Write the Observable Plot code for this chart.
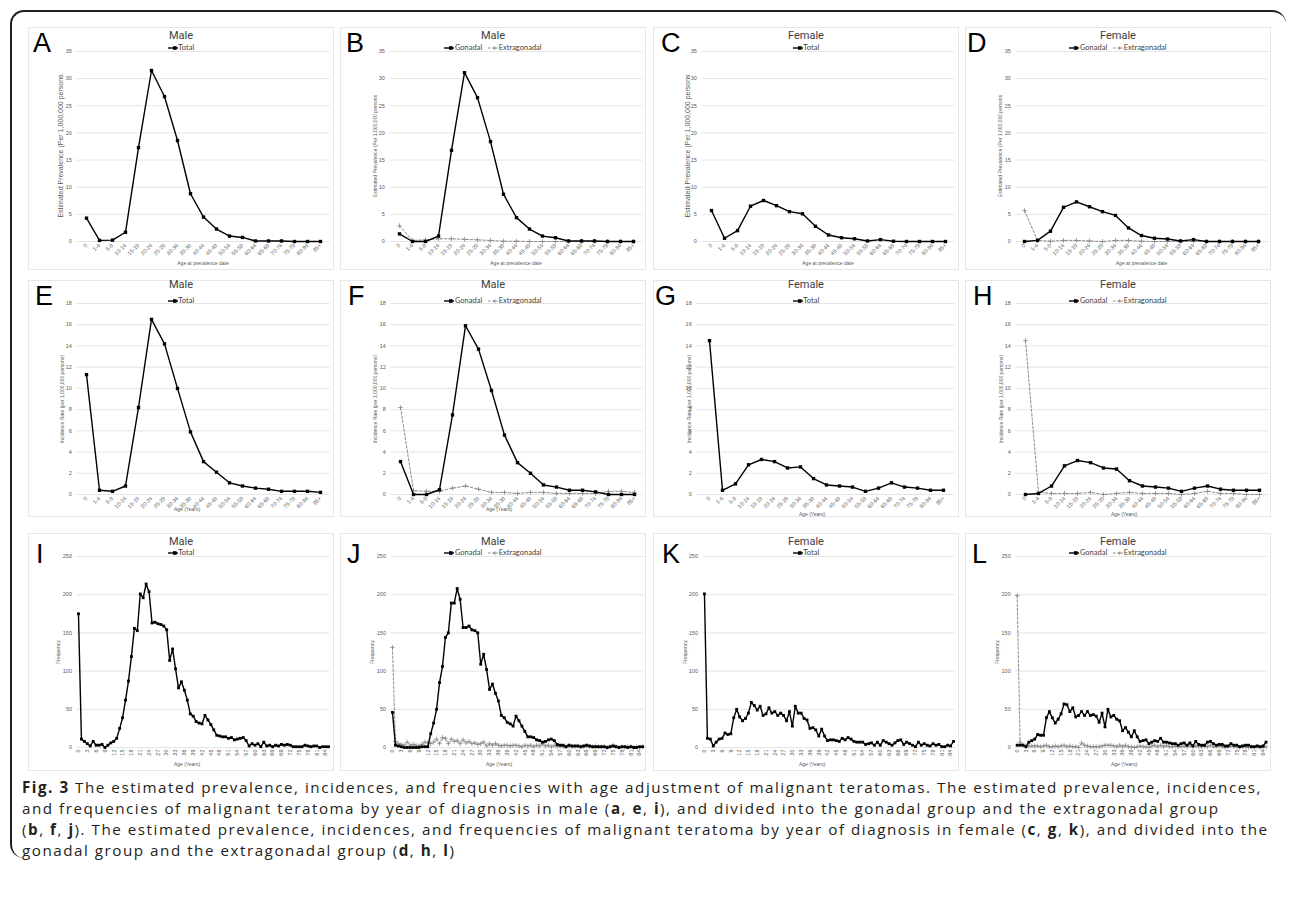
<!DOCTYPE html>
<html><head><meta charset="utf-8">
<script src="https://cdn.jsdelivr.net/npm/d3@7"></script>
<script src="https://cdn.jsdelivr.net/npm/@observablehq/plot@0.6"></script>
<style>
body{margin:0;background:#fff;}
#fig{position:relative;width:1290px;height:904px;overflow:hidden;font-family:"Liberation Sans",Arial,sans-serif;background:#fff;}
.frame{position:absolute;left:10px;top:10px;width:1276px;height:848px;border-top:2px solid #231f20;border-left:2px solid #231f20;border-radius:14px 14px 0 14px;box-sizing:border-box;}
.panel{position:absolute;outline:1px solid #e6e6e6;outline-offset:-1px;}
.panel svg.chart{position:absolute;left:0;top:0;overflow:visible;}
.letter{position:absolute;font-size:27px;line-height:1;color:#000;}
.ptitle{position:absolute;left:0;width:100%;text-align:center;font-size:11px;line-height:1;color:#404040;font-family:Roboto,"Liberation Sans",sans-serif;}
.legend{position:absolute;left:0;width:100%;display:flex;justify-content:center;align-items:center;gap:6px;font-size:7.5px;line-height:1;color:#404040;font-family:Lato,"Open Sans",sans-serif;}
.legend span{display:flex;align-items:center;}
.legend svg{display:block;}
.ytitle{position:absolute;white-space:nowrap;transform:translate(-50%,-50%) rotate(-90deg);color:#595959;line-height:1;}
.xtitle{position:absolute;white-space:nowrap;transform:translate(-50%,-50%);color:#595959;line-height:1;font-size:5px;}
.caption{position:absolute;left:22px;top:777px;font-family:"Open Sans","Noto Sans",sans-serif;font-size:15.2px;color:#231f20;white-space:nowrap;}
.caption div{height:21px;line-height:21px;}
.caption span{display:inline;}
</style></head>
<body><div id="fig"><div class="frame"></div>
<div class="caption" id="caption">
<div><span><b>Fig. 3</b> The estimated prevalence, incidences, and frequencies with age adjustment of malignant teratomas. The estimated prevalence, incidences,</span></div>
<div><span>and frequencies of malignant teratoma by year of diagnosis in male (<b>a</b>, <b>e</b>, <b>i</b>), and divided into the gonadal group and the extragonadal group</span></div>
<div><span>(<b>b</b>, <b>f</b>, <b>j</b>). The estimated prevalence, incidences, and frequencies of malignant teratoma by year of diagnosis in female (<b>c</b>, <b>g</b>, <b>k</b>), and divided into the</span></div>
<div><span>gonadal group and the extragonadal group (<b>d</b>, <b>h</b>, <b>l</b>)</span></div>
</div>
</div>
<script>
// ---------- categories & ticks ----------
const ageGroups = ["0","1-4","5-9","10-14","15-19","20-24","25-29","30-34","35-39","40-44","45-49","50-54","55-59","60-64","65-69","70-74","75-79","80-84","85+"];
const ages = Array.from({length: 86}, (_, i) => i);
const ageTicks = [0,3,6,9,12,15,18,21,24,27,30,33,36,39,42,45,48,51,54,57,60,63,66,69,72,75,78,81,84];
const prevTicks = [0,5,10,15,20,25,30,35];
const incTicks = [0,2,4,6,8,10,12,14,16,18];
const freqTicks = [0,50,100,150,200,250];

// ---------- estimated prevalence (per 1,000,000) ----------
const prevMaleTotal    = [4.3,0.2,0.25,1.7,17.3,31.5,26.7,18.6,8.8,4.5,2.3,1.0,0.75,0.1,0.1,0.1,0,0,0];
const prevMaleGonadal  = [1.4,0,0,1.0,16.8,31.1,26.5,18.4,8.7,4.4,2.3,1.0,0.7,0.1,0.1,0.1,0,0,0];
const prevMaleExtra    = [2.9,0.2,0.3,0.5,0.5,0.4,0.3,0.2,0.05,0.05,0,0,0,0,0,0,0,0,0];
const prevFemaleTotal  = [5.7,0.6,2.0,6.5,7.55,6.6,5.5,5.1,2.8,1.2,0.7,0.5,0.1,0.35,0.05,0,0,0,0];
const prevFemaleGonadal= [0,0.2,1.9,6.3,7.3,6.4,5.5,4.8,2.5,1.1,0.6,0.45,0.1,0.35,0,0,0,0,0];
const prevFemaleExtra  = [5.7,0.2,0.05,0.2,0.2,0.1,0,0.2,0.2,0.05,0,0,0,0,0,0,0,0,0];

// ---------- incidence rate (per 1,000,000) ----------
const incMaleTotal     = [11.3,0.4,0.3,0.8,8.2,16.5,14.2,10.0,5.9,3.1,2.1,1.1,0.8,0.6,0.5,0.3,0.3,0.3,0.2];
const incMaleGonadal   = [3.1,0,0,0.45,7.5,15.9,13.7,9.8,5.6,3.0,2.0,0.9,0.7,0.4,0.4,0.25,0,0,0];
const incMaleExtra     = [8.2,0.35,0.3,0.3,0.6,0.8,0.5,0.2,0.2,0.1,0.2,0.2,0.1,0.1,0.1,0.1,0.3,0.3,0.2];
const incFemaleTotal   = [14.5,0.4,1.0,2.8,3.3,3.1,2.5,2.6,1.5,0.9,0.8,0.7,0.3,0.6,1.1,0.7,0.6,0.4,0.4];
const incFemaleGonadal = [0,0.1,0.8,2.7,3.2,3.0,2.5,2.4,1.3,0.8,0.7,0.6,0.3,0.6,0.8,0.5,0.4,0.4,0.4];
const incFemaleExtra   = [14.5,0.2,0.1,0.1,0.1,0.2,0,0.1,0.2,0.1,0.1,0.1,0,0.1,0.3,0.1,0.1,0,0];

// ---------- frequency by single year of age (0..85) ----------
const freqMaleTotal = [
 175,11,8,5,2,8,3,3,4,0,
 3,6,8,12,25,39,62,87,119,156,
 153,201,196,214,204,163,164,162,161,159,
 154,114,129,103,78,86,75,62,44,41,
 34,32,31,42,36,30,23,16,15,14,
 14,12,13,10,11,12,13,9,2,5,
 3,5,1,7,2,3,1,3,2,4,
 3,4,3,1,1,1,1,3,2,1,
 2,2,0,1,1,1];
const freqMaleGonadal = [
 46,3,2,1,0,0,0,0,0,0,
 1,1,1,18,32,50,85,106,144,150,
 189,189,208,194,157,157,159,154,153,150,
 109,122,102,76,83,71,61,42,39,33,
 31,28,41,35,28,21,14,14,13,10,
 9,7,8,10,11,9,4,3,3,1,
 3,2,2,2,1,2,3,2,1,1,
 1,1,1,0,1,2,1,0,1,1,
 0,1,0,0,1,1];
const freqMaleExtra = [
 131,8,5,4,3,7,3,4,3,2,
 4,7,6,5,7,11,5,13,12,5,
 11,8,9,5,10,6,8,5,6,4,
 5,7,2,5,3,5,3,2,3,3,
 2,3,3,2,1,3,2,3,1,3,
 2,5,2,3,1,3,1,2,1,1,
 2,1,1,2,1,1,2,1,1,2,
 1,1,1,0,1,3,1,0,1,0,
 1,1,0,1,0,1];
const freqFemaleTotal = [
 201,12,11,2,7,11,12,19,17,18,
 39,50,40,35,38,45,59,55,49,54,
 42,44,52,45,47,42,45,42,35,47,
 28,54,45,45,38,36,25,26,23,15,
 24,15,9,10,10,9,8,12,10,13,
 11,8,7,7,7,4,5,6,3,7,
 3,9,7,5,3,6,9,10,4,7,
 5,3,1,7,3,5,3,2,5,3,
 4,1,1,3,2,8];
const freqFemaleGonadal = [
 3,3,3,1,7,9,11,17,16,16,
 39,47,39,32,37,44,57,56,47,52,
 40,42,47,42,47,42,43,41,33,45,
 27,50,40,42,37,35,22,26,20,14,
 22,14,8,9,10,5,7,9,8,12,
 7,7,6,5,5,3,5,6,3,6,
 2,8,4,3,3,7,8,5,3,4,
 4,2,2,5,3,3,1,2,3,3,
 1,1,2,1,2,7];
const freqFemaleExtra = [
 199,7,3,2,2,2,2,2,1,2,
 3,1,1,2,1,2,3,1,2,1,
 1,0,6,3,2,1,1,1,1,2,
 3,3,3,2,1,3,1,3,1,1,
 0,1,2,1,1,0,2,3,1,3,
 1,3,1,1,2,1,1,2,1,3,
 1,2,1,1,2,1,3,1,1,2,
 1,0,1,2,1,1,0,1,1,0,
 1,0,1,0,0,1];

// ---------- text ----------
const letters = ["A","B","C","D","E","F","G","H","I","J","K","L"];
const sexTitles = ["Male","Male","Female","Female"];
const prevYTitleBig = "Estimated Prevalence  (Per 1,000,000 persons";
const prevYTitleSmall = "Estimated Prevalence (Per 1,000,000 persons";
const incYTitle = "Incidence Rate (per 1,000,000 persons)";
const freqYTitle = "Frequency";

// ---------- panel definitions ----------
const panelSeries = [
  [["Total", prevMaleTotal]], [["Gonadal", prevMaleGonadal], ["Extragonadal", prevMaleExtra]],
  [["Total", prevFemaleTotal]], [["Gonadal", prevFemaleGonadal], ["Extragonadal", prevFemaleExtra]],
  [["Total", incMaleTotal]], [["Gonadal", incMaleGonadal], ["Extragonadal", incMaleExtra]],
  [["Total", incFemaleTotal]], [["Gonadal", incFemaleGonadal], ["Extragonadal", incFemaleExtra]],
  [["Total", freqMaleTotal]], [["Gonadal", freqMaleGonadal], ["Extragonadal", freqMaleExtra]],
  [["Total", freqFemaleTotal]], [["Gonadal", freqFemaleGonadal], ["Extragonadal", freqFemaleExtra]]
];

// ---------- layout (page pixels) ----------
const colLeft = [28, 340, 653, 965];
const colWidth = 306;
const rowTop = [27, 280, 533];
const rowHeight = [243, 237, 238];
const frameY = [[51, 241], [303, 494], [556, 747]];
const frameX = [
  [76.3, 329.7], [389.3, 642.7], [701.3, 954.7], [1015.4, 1267.6],
  [76.3, 329.7], [390.4, 642.6], [696.2, 954.8], [1015.3, 1268.7],
  [76.5, 329.5], [390.5, 643.5], [702.5, 954.5], [1015.2, 1267]
];
const letterPos = [[33,30],[346,30],[661,30],[967,30],[35,283],[348,283],[655,283],[973,283],[36,541],[347,541],[662,541],[972,541]];
const titleY = [35, 284, 541];
const legendY = [48, 301, 553];
const yTitleX = [60, 375, 687, 1000, 62, 375, 689, 1001, 58, 372, 685, 997];
const xTitleY = [[263,263,263,263],[509,509,514,514],[764,764,764,764]];

const styles = {
  Total: {stroke: "#000", width: 1.4, dash: null, symbol: "square"},
  Gonadal: {stroke: "#000", width: 1.4, dash: null, symbol: "square"},
  Extragonadal: {stroke: "#808080", width: 0.9, dash: "2.5,1.8", symbol: "plus"}
};

function swatch(name) {
  const s = styles[name];
  const mk = s.symbol === "square"
    ? `<rect x="5" y="1.2" width="3.6" height="3.6" fill="#000"/>`
    : `<path d="M6.8 1.3V4.9M5 3.1H8.6" stroke="${s.stroke}" stroke-width="0.8"/>`;
  return `<svg width="10" height="6" style="margin-right:0.5px"><line x1="0" x2="10" y1="3" y2="3" stroke="${s.stroke}" stroke-width="${s.width}" ${s.dash ? `stroke-dasharray="${s.dash}"` : ""}/>${mk}</svg>`;
}

const fig = document.getElementById("fig");
panelSeries.forEach((series, i) => {
  const col = i % 4, row = Math.floor(i / 4);
  const bx = colLeft[col], by = rowTop[row], bw = colWidth, bh = rowHeight[row];
  const [fx0, fx1] = frameX[i], [fy0, fy1] = frameY[row];
  const isFreq = row === 2;
  const xDomain = isFreq ? ages : ageGroups;
  const yTicks = row === 0 ? prevTicks : row === 1 ? incTicks : freqTicks;
  const div = document.createElement("div");
  div.className = "panel";
  Object.assign(div.style, {left: bx + "px", top: by + "px", width: bw + "px", height: bh + "px"});

  const marks = [
    Plot.gridY(yTicks, {stroke: "#d9d9d9", strokeOpacity: 1, strokeWidth: 0.7}),
    Plot.axisY(yTicks, {tickSize: 0, tickPadding: 5, fontSize: 5.5, label: null}),
    isFreq
      ? Plot.axisX(ageTicks, {tickSize: 0, tickPadding: 2, tickRotate: -90, fontSize: 5.5, label: null})
      : Plot.axisX({tickSize: 0, tickPadding: 3, tickRotate: -45, fontSize: 5.5, label: null})
  ];
  series.slice().reverse().forEach(([name, values]) => {
    const s = styles[name];
    const data = values.map((v, k) => ({x: xDomain[k], y: v}));
    marks.push(Plot.line(data, {x: "x", y: "y", stroke: s.stroke, strokeWidth: s.width, strokeDasharray: s.dash}));
    if (s.symbol === "square")
      marks.push(Plot.dot(data, {x: "x", y: "y", symbol: "square", r: isFreq ? 1.6 : 1.9, fill: "#000", stroke: "none"}));
    else
      marks.push(Plot.dot(data, {x: "x", y: "y", symbol: "plus", r: 1.7, stroke: s.stroke, strokeWidth: 0.7}));
  });

  const svg = Plot.plot({
    width: bw, height: bh,
    marginLeft: fx0 - bx, marginRight: bx + bw - fx1,
    marginTop: fy0 - by, marginBottom: by + bh - fy1,
    x: {type: "point", domain: xDomain, padding: 0.5},
    y: {domain: [0, yTicks[yTicks.length - 1]], nice: false},
    style: {fontFamily: "'Liberation Sans', Arial, sans-serif", color: "#595959", background: "transparent", overflow: "visible"},
    marks
  });
  svg.classList.add("chart");
  div.appendChild(svg);

  const L = document.createElement("div");
  L.className = "letter"; L.textContent = letters[i];
  L.style.left = (letterPos[i][0] - bx) + "px"; L.style.top = (letterPos[i][1] - by) + "px";
  div.appendChild(L);
  const T = document.createElement("div");
  T.className = "ptitle"; T.textContent = sexTitles[col];
  T.style.top = (titleY[row] - by - 5.5) + "px";
  div.appendChild(T);
  const G = document.createElement("div");
  G.className = "legend";
  G.style.top = (legendY[row] - by - 4) + "px";
  G.innerHTML = series.map(([name]) => `<span>${swatch(name)}${name}</span>`).join("");
  div.appendChild(G);
  const Y = document.createElement("div");
  Y.className = "ytitle";
  const big = row === 0 && (col === 0 || col === 2);
  Y.textContent = row === 0 ? (big ? prevYTitleBig : prevYTitleSmall) : row === 1 ? incYTitle : freqYTitle;
  Y.style.fontSize = big ? "7px" : "5px";
  Y.style.left = (yTitleX[i] - bx) + "px";
  Y.style.top = ((fy0 + fy1) / 2 - by) + "px";
  div.appendChild(Y);
  const X = document.createElement("div");
  X.className = "xtitle";
  X.textContent = row === 0 ? "Age at prevalence date" : "Age (Years)";
  X.style.left = (row === 0 ? (fx0 + fx1) / 2 - bx : bw / 2 + 6) + "px";
  X.style.top = (xTitleY[row][col] - by) + "px";
  div.appendChild(X);

  fig.appendChild(div);
});

// fit caption line 1 to the reference width (1240 px) via letter-spacing
const cap = document.getElementById("caption");
const firstLine = cap.querySelector("span");
const w0 = firstLine.getBoundingClientRect().width;
const nChars = firstLine.textContent.length;
cap.style.letterSpacing = ((1240 - w0) / nChars).toFixed(3) + "px";
</script>
</body></html>
